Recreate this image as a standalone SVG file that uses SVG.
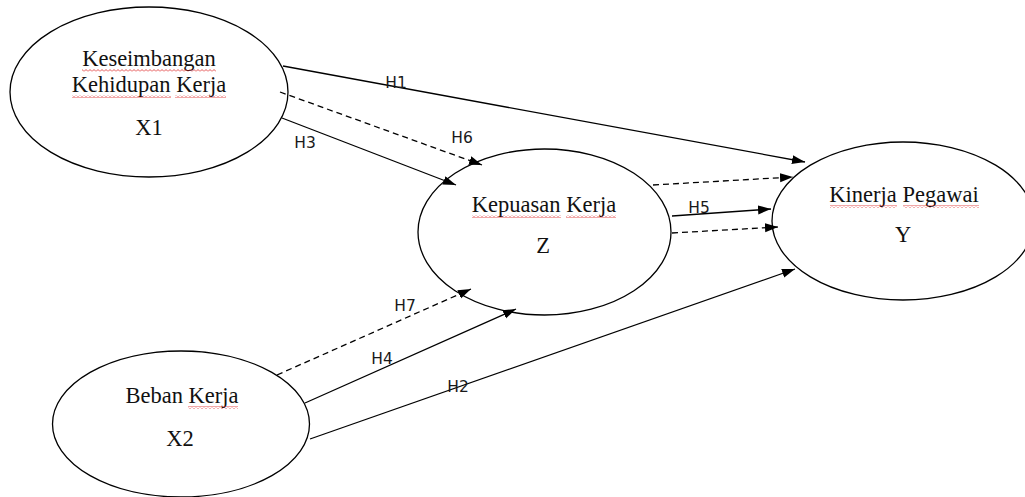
<svg xmlns="http://www.w3.org/2000/svg" width="1025" height="497" viewBox="0 0 1025 497">
<style>
.node ellipse{fill:#fff;stroke:#000;stroke-width:1.3}
.nt{font-family:"Liberation Serif","Times New Roman",serif;font-size:22.5px;fill:#111;text-anchor:middle}
.hl{font-family:"DejaVu Sans","Liberation Sans",sans-serif;font-size:15.5px;fill:#1a1a1a;text-anchor:middle}
.c{fill:none;stroke:#000;stroke-width:1.3;marker-end:url(#ah)}
.d{stroke-dasharray:6 4}
.sq{fill:url(#wave)}
</style>
<defs>
<marker id="ah" markerUnits="userSpaceOnUse" markerWidth="14" markerHeight="10" refX="13" refY="4.5" orient="auto">
<path d="M0,0 L13,4.5 L0,9 z" fill="#000"/>
</marker>
<pattern id="wave" patternUnits="userSpaceOnUse" width="4" height="3">
<path d="M0,2.5 L2,0.5 L4,2.5" fill="none" stroke="#d22" stroke-width="0.8"/>
</pattern>
</defs>
<rect width="1025" height="497" fill="#fff"/>
<g id="X1" class="node">
<ellipse cx="149" cy="92" rx="139" ry="85"/>
<text class="nt" x="149" y="66">Keseimbangan</text>
<text class="nt" x="149" y="92">Kehidupan Kerja</text>
<text class="nt" x="149" y="135">X1</text>
<rect class="sq" x="82" y="69" width="134" height="3"/>
<rect class="sq" x="72" y="95" width="99" height="3"/>
<rect class="sq" x="175" y="95" width="51" height="3"/>
</g>
<g id="Z" class="node">
<ellipse cx="544.5" cy="232" rx="126.5" ry="83"/>
<text class="nt" x="544" y="212">Kepuasan Kerja</text>
<text class="nt" x="543" y="253">Z</text>
<rect class="sq" x="472" y="215" width="89" height="3"/>
<rect class="sq" x="566" y="215" width="50" height="3"/>
</g>
<g id="Y" class="node">
<ellipse cx="903" cy="221" rx="131" ry="79"/>
<text class="nt" x="904" y="202">Kinerja Pegawai</text>
<text class="nt" x="903" y="242">Y</text>
<rect class="sq" x="830" y="205" width="67" height="3"/>
<rect class="sq" x="903" y="205" width="76" height="3"/>
</g>
<g id="X2" class="node">
<ellipse cx="181" cy="424" rx="128.5" ry="73"/>
<text class="nt" x="182" y="403">Beban Kerja</text>
<text class="nt" x="180" y="446">X2</text>
<rect class="sq" x="188" y="406" width="50" height="3"/>
</g>
<g id="connectors">
<path class="c" d="M283,66 L805,162"/>
<path class="c d" d="M280,92 L482,165"/>
<path class="c" d="M282,118 L456,185"/>
<path class="c d" d="M653,185 L793,177"/>
<path class="c" d="M672,216 L771,209"/>
<path class="c d" d="M672,233 L778,227"/>
<path class="c d" d="M277,375 L471,289"/>
<path class="c" d="M305,403 L516,309"/>
<path class="c" d="M310,439 L795,269"/>
<text class="hl" x="396" y="88">H1</text>
<text class="hl" x="462" y="143">H6</text>
<text class="hl" x="305" y="148">H3</text>
<text class="hl" x="699" y="213">H5</text>
<text class="hl" x="405" y="311">H7</text>
<text class="hl" x="382" y="364">H4</text>
<text class="hl" x="458" y="392">H2</text>
</g>
</svg>
